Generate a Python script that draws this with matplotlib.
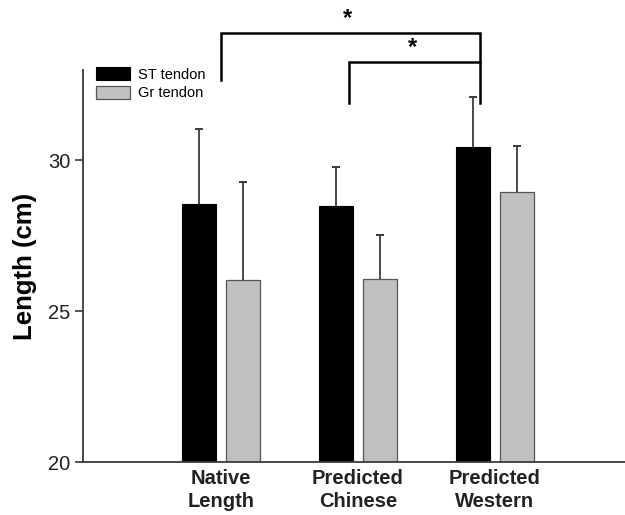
import matplotlib
matplotlib.use("Agg")
import matplotlib.pyplot as plt
import numpy as np

plt.rcParams["font.family"] = ["Liberation Sans", "DejaVu Sans"]

categories = ["Native\nLength", "Predicted\nChinese", "Predicted\nWestern"]
st_mean = [28.54, 28.48, 30.45]
st_sd = [2.51, 1.29, 1.67]
gr_mean = [26.03, 26.07, 28.94]
gr_sd = [3.27, 1.47, 1.53]
series_labels = ["ST tendon", "Gr tendon"]
yticks = [20, 25, 30]

fig = plt.figure(figsize=(6.25, 5.15), dpi=100)
ax = fig.add_axes([83/625, 53/515, 1 - 83/625, 392/515])

x = np.arange(len(categories))
w = 0.248
off = 0.163
dark = "#3a3a3a"
ax.bar(x - off, st_mean, w, color="black", edgecolor="black", linewidth=0.8,
       label=series_labels[0], zorder=2)
ax.bar(x + off, gr_mean, w, color="#c0c0c0", edgecolor="#555555", linewidth=0.9,
       label=series_labels[1], zorder=2)
for xs, means, sds in [(x - off, st_mean, st_sd), (x + off, gr_mean, gr_sd)]:
    eb = ax.errorbar(xs, means, yerr=[np.zeros(3), sds], fmt="none", ecolor=dark,
                     elinewidth=1.3, capsize=3.2, capthick=1.4, zorder=1)
    caps = eb.lines[1]
    if len(caps) == 2:
        caps[0].set_visible(False)

ax.set_xlim(-1.007, 2.95)
ax.set_ylim(20, 33)
ax.set_yticks(yticks)
ax.set_yticklabels([str(t) for t in yticks], fontsize=14.5, color="#222222")
ax.set_xticks(x)
ax.set_xticklabels(categories, fontsize=14.5, fontweight="bold", color="#222222",
                   linespacing=1.3)
ax.tick_params(axis="x", length=0, pad=5)
ax.tick_params(axis="y", direction="out", length=6, width=1.2, color=dark, pad=3)
for s in ["top", "right"]:
    ax.spines[s].set_visible(False)
for s in ["left", "bottom"]:
    ax.spines[s].set_color(dark)
    ax.spines[s].set_linewidth(1.3)
ax.set_ylabel("Length (cm)", fontsize=18.5, fontweight="bold", labelpad=8)

# significance brackets
kw = dict(color="black", linewidth=1.8, clip_on=False, solid_joinstyle="miter")
xr = 1.89
ax.plot([0.0, 0.0, xr, xr], [32.68, 34.24, 34.24, 31.89], **kw)
ax.plot([0.934, 0.934, xr, xr], [31.89, 33.28, 33.28, 33.28], **kw)
ax.text(0.925, 34.33, "*", ha="center", va="bottom", fontsize=17, fontweight="bold",
        clip_on=False)
ax.text(1.40, 33.37, "*", ha="center", va="bottom", fontsize=17, fontweight="bold",
        clip_on=False)

leg = ax.legend(loc="upper left", bbox_to_anchor=(0.0, 1.04), frameon=False, fontsize=10.5,
                handlelength=2.3, handleheight=0.95, handletextpad=0.6, labelspacing=0.3,
                borderaxespad=0.5)
fig.savefig("out.png", dpi=100)
